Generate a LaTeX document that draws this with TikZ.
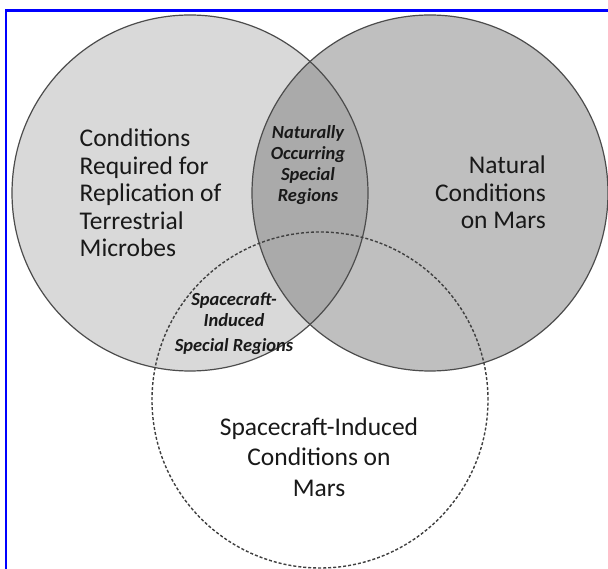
\documentclass[tikz,border=0pt]{standalone}
\usepackage{fontspec}
\setmainfont{Carlito}
\begin{document}
\begin{tikzpicture}[x=1pt,y=-1pt,
  circ/.style={draw=black!70,line width=1.2pt},
  dcirc/.style={draw=black!75,line width=1.4pt,dash pattern=on 3pt off 2pt},
  bigtxt/.style={inner sep=0pt,font=\fontsize{25.5}{27.5}\selectfont,text=black!90},
  smtxt/.style={inner sep=0pt,font=\fontsize{18.5}{21.3}\selectfont\bfseries\itshape,text=black!90,align=center}]
\useasboundingbox (0,0) rectangle (608,569);
\fill[white] (0,0) rectangle (608,569);
% fills
\fill[fill={rgb,255:red,217;green,217;blue,217}] (190,193) circle (178);
\fill[fill={rgb,255:red,191;green,191;blue,191}] (430,193) circle (178);
\begin{scope}
  \clip (190,193) circle (178);
  \fill[fill={rgb,255:red,170;green,170;blue,170}] (430,193) circle (178);
\end{scope}
% outlines
\node[circle,minimum size=356pt,inner sep=0pt,circ] (L) at (190,193) {};
\node[circle,minimum size=356pt,inner sep=0pt,circ] (R) at (430,193) {};
\node[circle,minimum size=336pt,inner sep=0pt,dcirc] (B) at (320,400) {};
% border
\draw[blue,line width=2.5pt] (6,569) -- (6,10.5) -- (608,10.5);
% texts
\node[bigtxt,align=left,anchor=base west] (tl) at (79.5,257) {Conditions\\Required for\\Replication of\\Terrestrial\\Microbes};
\node[bigtxt,align=right,anchor=base east] (tr) at (546,229) {Natural\\Conditions\\on Mars};
\node[bigtxt,align=center,font=\fontsize{25.5}{30.5}\selectfont,anchor=base] (tb) at (319,496) {Spacecraft-Induced\\Conditions on\\Mars};
\node[smtxt,anchor=base] (tn) at (308,202) {Naturally\\Occurring\\Special\\Regions};
\node[smtxt,anchor=base] (ts) at (234,352) {Spacecraft-\\Induced\\[4pt]Special Regions};
\end{tikzpicture}
\end{document}
